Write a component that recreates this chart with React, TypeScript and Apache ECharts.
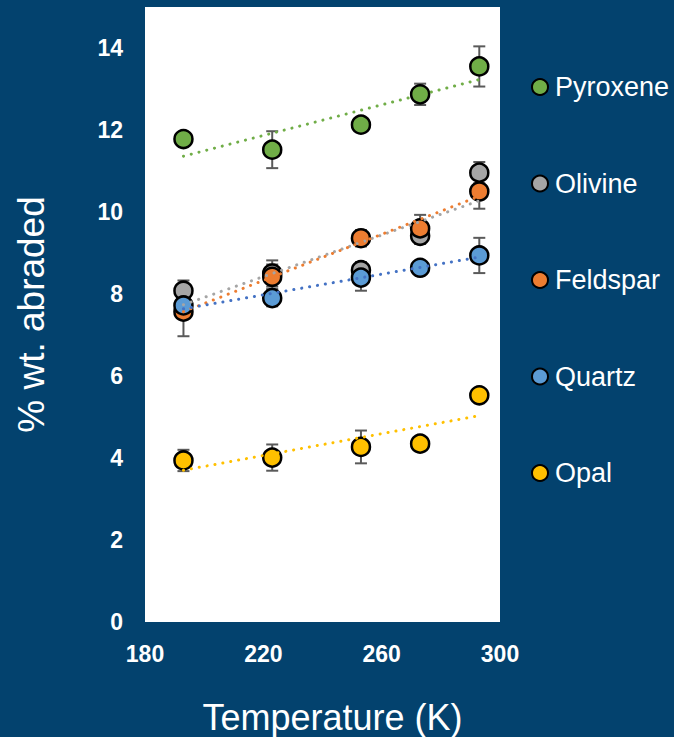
import React, { useEffect, useRef } from "react";
import * as echarts from "echarts";

// Temperatures (K) at which each mineral was abraded
const temperature = [193, 223, 253, 273, 293];

// Mean % wt. abraded per mineral
const pyroxene = [11.78, 11.52, 12.13, 12.87, 13.55];
const olivine = [8.08, 8.5, 8.58, 9.42, 10.96];
const feldspar = [7.57, 8.42, 9.36, 9.6, 10.5];
const quartz = [7.72, 7.9, 8.4, 8.64, 8.94];
const opal = [3.94, 4.01, 4.27, 4.35, 5.53];

// Standard deviations (error bar half-lengths)
const pyroxeneErr = [0.1, 0.45, 0.15, 0.26, 0.49];
const olivineErr = [0.25, 0.32, 0.2, 0.2, 0.26];
const feldsparErr = [0.6, 0.3, 0.2, 0.33, 0.42];
const quartzErr = [0.15, 0.2, 0.32, 0.15, 0.43];
const opalErr = [0.26, 0.32, 0.4, 0.1, 0.1];

// Axis ticks
const xTicks = [180, 220, 260, 300];
const yTicks = [0, 2, 4, 6, 8, 10, 12, 14];

const minerals = [
  { name: "Pyroxene", values: pyroxene, err: pyroxeneErr, color: "#70ad47", trend: "#70ad47" },
  { name: "Olivine", values: olivine, err: olivineErr, color: "#a5a5a5", trend: "#a5a5a5" },
  { name: "Feldspar", values: feldspar, err: feldsparErr, color: "#ed7d31", trend: "#ed7d31" },
  { name: "Quartz", values: quartz, err: quartzErr, color: "#5b9bd5", trend: "#4472c4" },
  { name: "Opal", values: opal, err: opalErr, color: "#ffc000", trend: "#ffc000" },
];

// Least-squares linear trend through a series
function linearFit(xs: number[], ys: number[]) {
  const n = xs.length;
  const mx = xs.reduce((a, b) => a + b, 0) / n;
  const my = ys.reduce((a, b) => a + b, 0) / n;
  let sxy = 0;
  let sxx = 0;
  for (let i = 0; i < n; i++) {
    sxy += (xs[i] - mx) * (ys[i] - my);
    sxx += (xs[i] - mx) * (xs[i] - mx);
  }
  const slope = sxy / sxx;
  return (x: number) => my + slope * (x - mx);
}

export default function App() {
  const ref = useRef<HTMLDivElement>(null);

  useEffect(() => {
    if (!ref.current) return;
    const chart = echarts.init(ref.current, undefined, { renderer: "svg" });

    const errData: number[][] = [];
    minerals.forEach((m) => {
      temperature.forEach((t, i) => {
        errData.push([t, m.values[i] - m.err[i], m.values[i] + m.err[i]]);
      });
    });

    const errorSeries = {
      type: "custom",
      name: "errors",
      z: 1,
      silent: true,
      data: errData,
      encode: { x: 0, y: [1, 2] },
      renderItem: (_params: any, api: any) => {
        const x = api.value(0);
        const top = api.coord([x, api.value(2)]);
        const bot = api.coord([x, api.value(1)]);
        const hw = 6;
        const style = { stroke: "#5a5a5a", lineWidth: 2, fill: null };
        return {
          type: "group",
          children: [
            { type: "line", shape: { x1: top[0], y1: top[1], x2: bot[0], y2: bot[1] }, style },
            { type: "line", shape: { x1: top[0] - hw, y1: top[1], x2: top[0] + hw, y2: top[1] }, style },
            { type: "line", shape: { x1: bot[0] - hw, y1: bot[1], x2: bot[0] + hw, y2: bot[1] }, style },
          ],
        };
      },
    };

    const scatterSeries = minerals.map((m) => ({
      type: "scatter",
      name: m.name,
      z: 2,
      symbol: "circle",
      symbolSize: 18,
      itemStyle: { color: m.color, borderColor: "#000", borderWidth: 2.5, opacity: 1 },
      data: temperature.map((t, i) => [t, m.values[i]]),
    }));

    const tMin = temperature[0];
    const tMax = temperature[temperature.length - 1];
    const trendSeries = minerals.map((m) => {
      const f = linearFit(temperature, m.values);
      return {
        type: "line",
        name: m.name + " trend",
        z: 3,
        silent: true,
        symbol: "none",
        lineStyle: { color: m.trend, width: 3, type: [0.1, 7.9], cap: "round" },
        data: [
          [tMin, f(tMin)],
          [tMax, f(tMax)],
        ],
      };
    });

    chart.setOption({
      animation: false,
      backgroundColor: "#03426e",
      grid: {
        left: 145,
        right: 174,
        top: 7,
        bottom: 115,
        outerBoundsMode: "none",
        containLabel: false,
        show: true,
        backgroundColor: "#ffffff",
        borderWidth: 0,
      },
      legend: {
        orient: "vertical",
        left: 526,
        top: 67,
        itemWidth: 20,
        itemHeight: 16,
        itemGap: 66.5,
        icon: "circle",
        data: minerals.map((m) => m.name),
        textStyle: {
          color: "#ffffff",
          fontFamily: "Liberation Sans, Arial, sans-serif",
          fontSize: 27,
          lineHeight: 30,
        },
        selectedMode: false,
      },
      xAxis: {
        type: "value",
        min: xTicks[0],
        max: xTicks[xTicks.length - 1],
        interval: xTicks[1] - xTicks[0],
        name: "Temperature (K)",
        nameLocation: "middle",
        nameGap: 77,
        nameTextStyle: {
          color: "#ffffff",
          fontFamily: "Liberation Sans, Arial, sans-serif",
          fontSize: 36,
          lineHeight: 36,
          padding: [0, 0, 0, 20],
        },
        axisLine: { show: false },
        axisTick: { show: false },
        splitLine: { show: false },
        axisLabel: {
          color: "#ffffff",
          fontWeight: "bold",
          fontSize: 23,
          fontFamily: "Liberation Sans, Arial, sans-serif",
          margin: 20,
        },
      },
      yAxis: {
        type: "value",
        min: yTicks[0],
        max: 15,
        interval: yTicks[1] - yTicks[0],
        name: "% wt. abraded",
        nameLocation: "middle",
        nameGap: 95,
        nameTextStyle: {
          color: "#ffffff",
          fontFamily: "Liberation Sans, Arial, sans-serif",
          fontSize: 37,
        },
        axisLine: { show: false },
        axisTick: { show: false },
        splitLine: { show: false },
        axisLabel: {
          color: "#ffffff",
          fontWeight: "bold",
          fontSize: 23,
          fontFamily: "Liberation Sans, Arial, sans-serif",
          margin: 22,
          formatter: (v: number) => (yTicks.includes(v) ? String(v) : ""),
        },
      },
      series: [errorSeries, ...scatterSeries, ...trendSeries],
    });

    return () => chart.dispose();
  }, []);

  return (
    <div
      ref={ref}
      style={{ position: "fixed", left: 0, top: 0, width: 674, height: 737 }}
    />
  );
}
